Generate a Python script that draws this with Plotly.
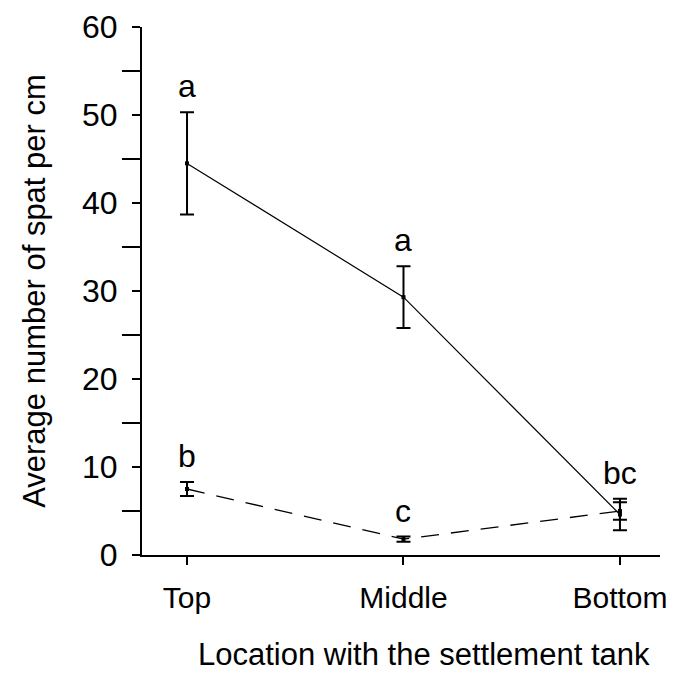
import plotly.graph_objects as go

# data
locations = ["Top", "Middle", "Bottom"]
solid_mean = [44.5, 29.3, 4.6]
solid_err = [5.8, 3.5, 1.8]
dashed_mean = [7.5, 1.8, 5.0]
dashed_err = [0.8, 0.3, 1.0]
solid_letters = ["a", "a", "bc"]
dashed_letters = ["b", "c", ""]

FONT = "Liberation Sans, Arial, sans-serif"

fig = go.Figure()

fig.add_trace(go.Scatter(
    x=locations, y=dashed_mean,
    mode="lines+markers",
    line=dict(color="black", width=1.3, dash="18px,12px"),
    marker=dict(symbol="square", size=4, color="black"),
    error_y=dict(type="data", array=dashed_err, color="black", thickness=2, width=7),
    showlegend=False,
))

fig.add_trace(go.Scatter(
    x=locations, y=solid_mean,
    mode="lines+markers",
    line=dict(color="black", width=1.2),
    marker=dict(symbol="square", size=4, color="black"),
    error_y=dict(type="data", array=solid_err, color="black", thickness=2, width=7),
    showlegend=False,
))

# significance letters above the error bars
for loc, m, e, t in zip(locations, solid_mean, solid_err, solid_letters):
    if t:
        fig.add_annotation(x=loc, y=m + e, text=t, showarrow=False,
                           yanchor="bottom", yshift=6,
                           font=dict(family=FONT, size=32, color="black"))
for loc, m, e, t in zip(locations, dashed_mean, dashed_err, dashed_letters):
    if t:
        fig.add_annotation(x=loc, y=m + e, text=t, showarrow=False,
                           yanchor="bottom", yshift=6,
                           font=dict(family=FONT, size=32, color="black"))

# x title sits a bit right of the plot centre in the original
fig.add_annotation(text="Location with the settlement tank",
                   xref="paper", yref="paper", x=0.544, y=-0.189,
                   xanchor="center", yanchor="middle", showarrow=False,
                   font=dict(family=FONT, size=31, color="black"))

# page body adds an 8px margin, so the figure is 8px smaller than the window
fig.update_layout(
    width=671, height=665,
    margin=dict(l=134, r=19, t=19, b=118),
    plot_bgcolor="white", paper_bgcolor="white",
    font=dict(family=FONT, size=31, color="black"),
)

fig.update_xaxes(
    type="category", categoryorder="array", categoryarray=locations,
    range=[-0.208, 2.185], automargin=False,
    showline=True, linecolor="black", linewidth=2,
    ticks="outside", ticklen=8, tickwidth=2, tickcolor="black",
    showgrid=False, zeroline=False,
    tickfont=dict(size=30),
    ticklabelstandoff=7,
)

fig.update_yaxes(
    range=[0, 60], dtick=10, automargin=False,
    showline=True, linecolor="black", linewidth=2,
    ticks="outside", ticklen=8, tickwidth=2, tickcolor="black",
    minor=dict(dtick=5, ticks="outside", ticklen=18, tickwidth=2, tickcolor="black"),
    showgrid=False, zeroline=False,
    tickfont=dict(size=32),
    ticklabelstandoff=8,
    title=dict(text="Average number of spat per cm", standoff=27,
               font=dict(size=31)),
)

fig.write_html("out.html")
